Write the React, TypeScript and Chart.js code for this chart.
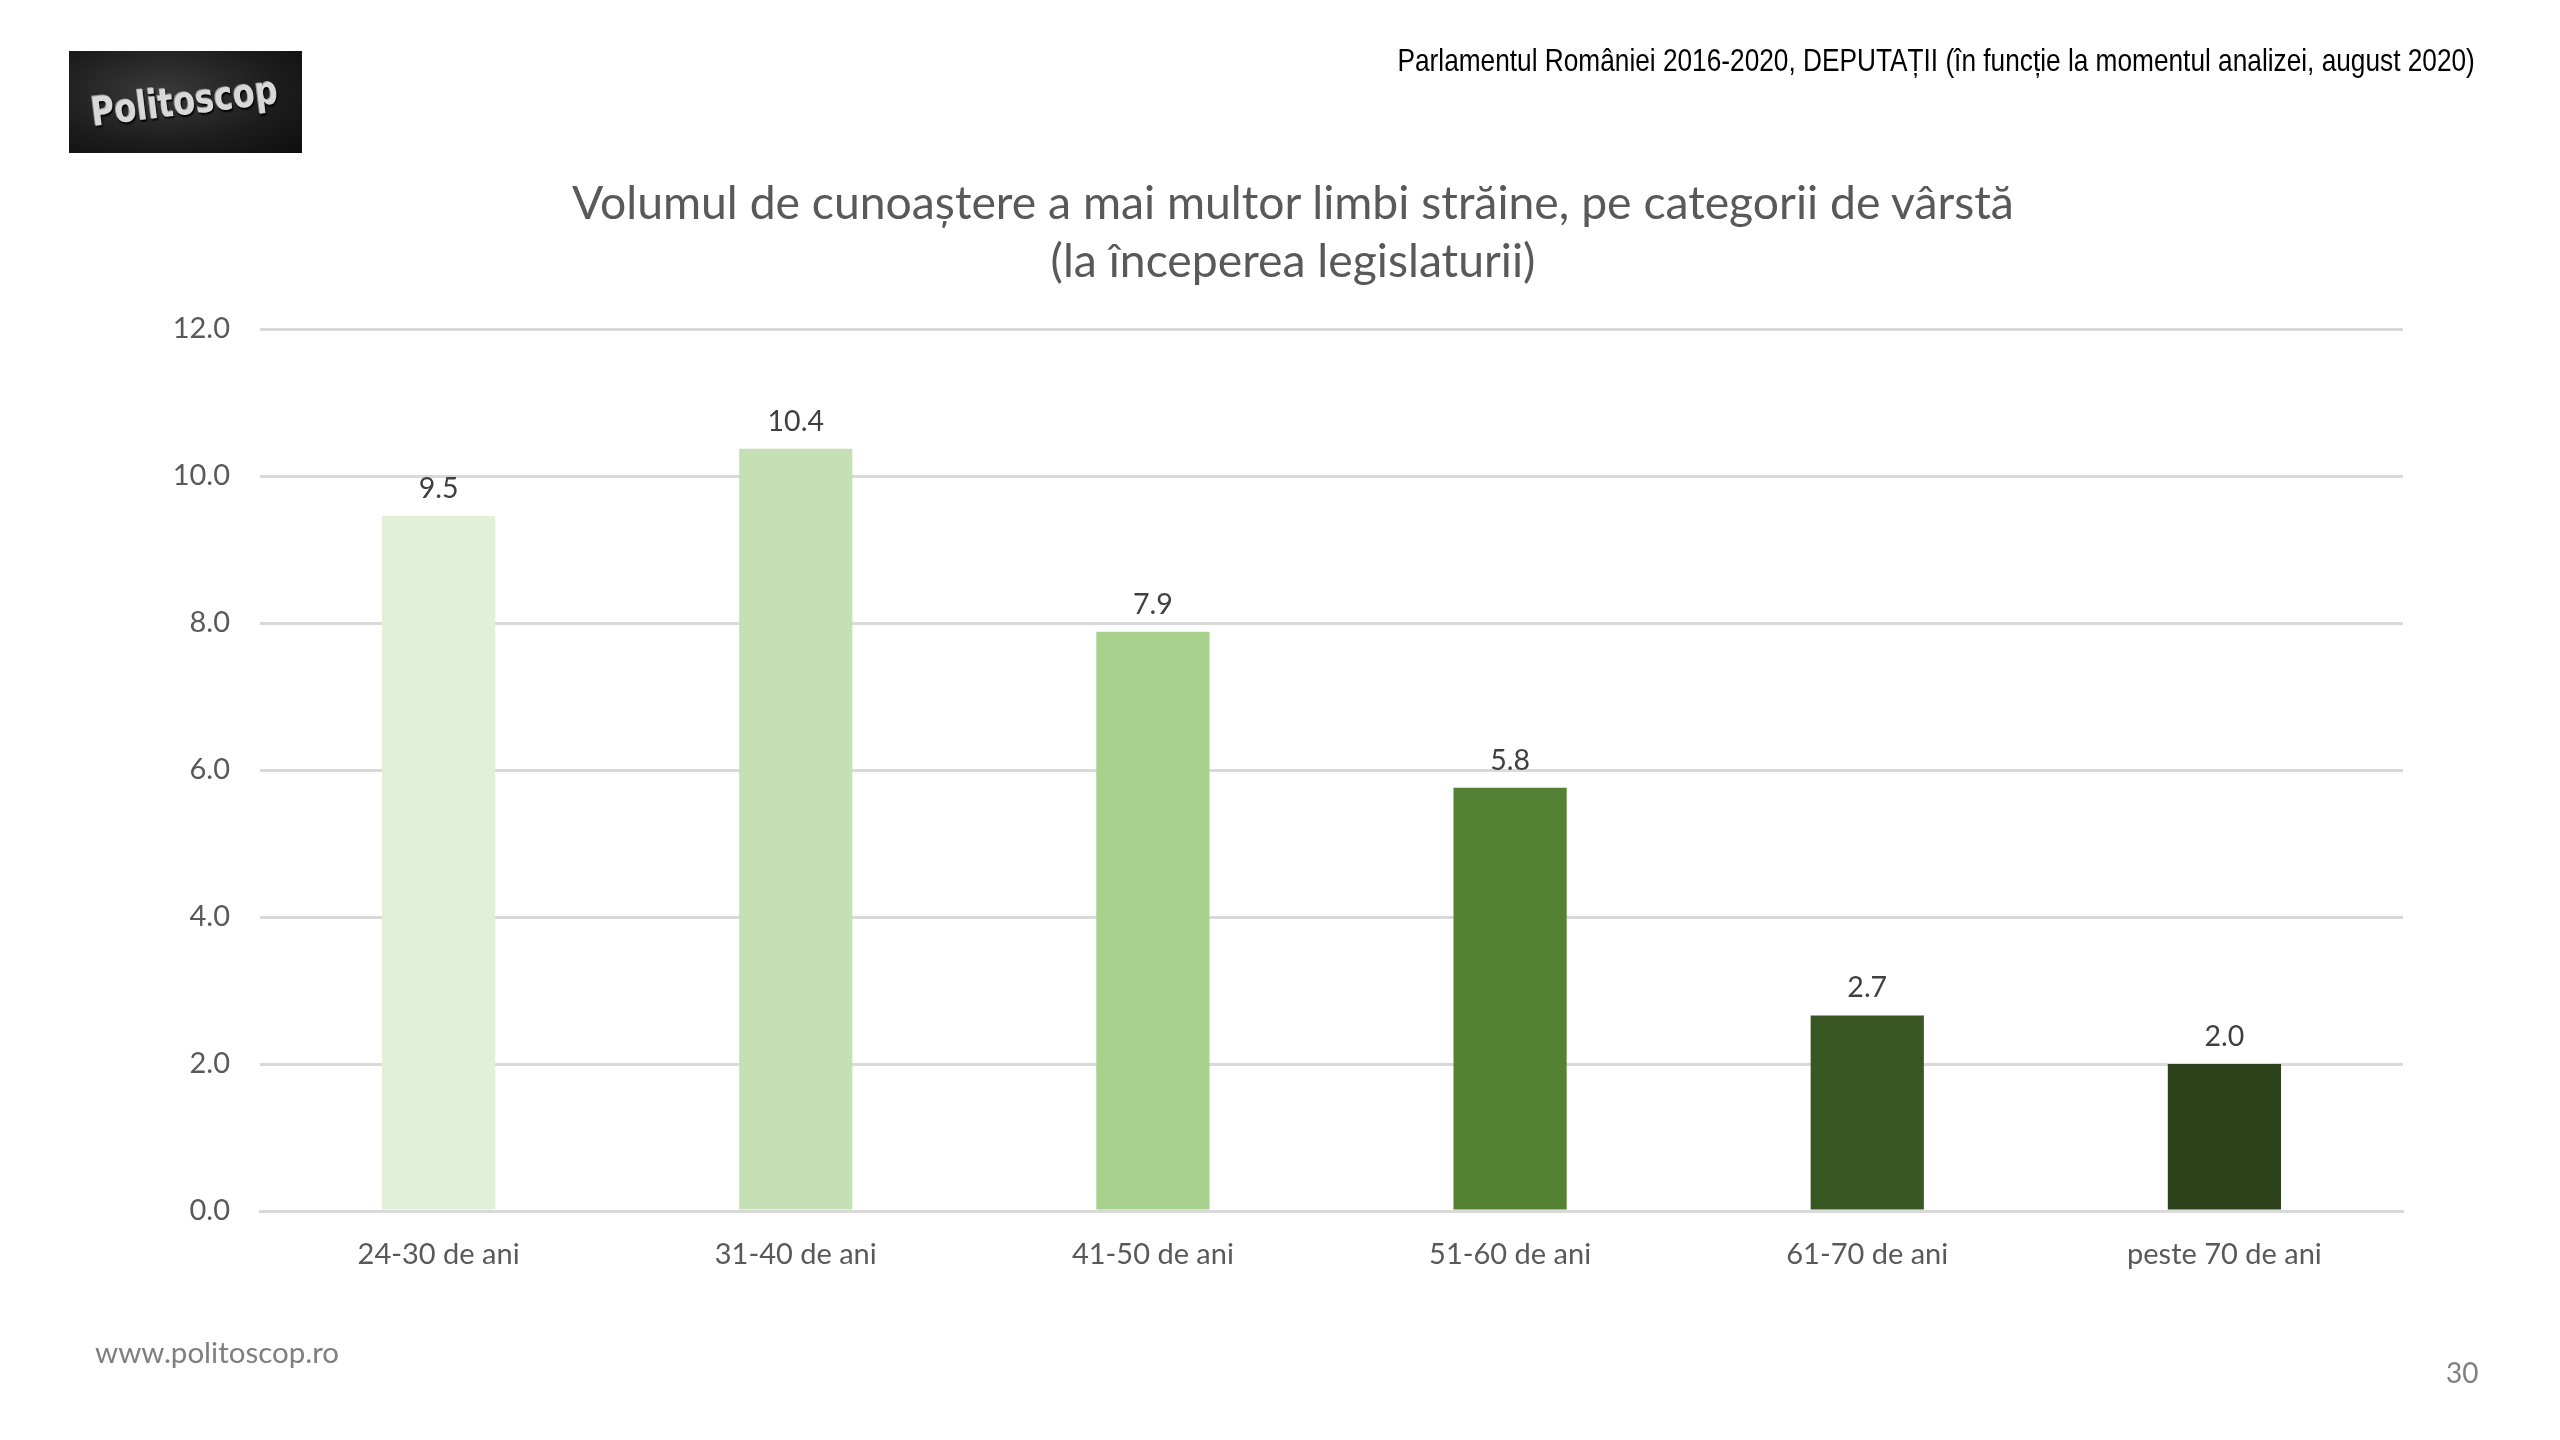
import React, { useEffect, useRef } from "react";
import { Chart, registerables } from "chart.js";

Chart.register(...registerables);

const categories = ["24-30 de ani", "31-40 de ani", "41-50 de ani", "51-60 de ani", "61-70 de ani", "peste 70 de ani"];
const values = [9.46, 10.37, 7.88, 5.76, 2.66, 2.0];
const barColors = ["#E2F0D9", "#C5E0B4", "#A9D18E", "#548235", "#385723", "#2A4119"];
const yTicks = [0, 2, 4, 6, 8, 10, 12];

const FONT = "Lato, 'Open Sans', sans-serif";

const valueLabels = {
  id: "valueLabels",
  afterDatasetsDraw(chart: any) {
    const ctx = chart.ctx;
    const meta = chart.getDatasetMeta(0);
    ctx.save();
    ctx.font = `28.5px ${FONT}`;
    ctx.fillStyle = "#404040";
    ctx.textAlign = "center";
    ctx.textBaseline = "bottom";
    meta.data.forEach((bar: any, i: number) => {
      ctx.fillText(values[i].toFixed(1), bar.x, bar.y - 13);
    });
    ctx.restore();
  },
};

function BarChart() {
  const ref = useRef<HTMLCanvasElement | null>(null);
  useEffect(() => {
    if (!ref.current) return;
    const chart = new Chart(ref.current, {
      type: "bar",
      data: {
        labels: categories,
        datasets: [
          {
            data: values,
            backgroundColor: barColors,
            borderWidth: 0,
            categoryPercentage: 1,
            barPercentage: 0.317,
          },
        ],
      },
      options: {
        animation: false,
        responsive: false,
        maintainAspectRatio: false,
        layout: { padding: { left: 0, right: 157, top: 329, bottom: 0 } },
        plugins: {
          legend: { display: false },
          tooltip: { enabled: false },
          title: { display: false },
        },
        scales: {
          x: {
            grid: { display: false, drawTicks: false },
            border: { display: true, color: "#D9D9D9", width: 3 },
            ticks: {
              color: "#595959",
              font: { family: FONT, size: 29 },
              padding: 26,
              maxRotation: 0,
            },
            afterFit(scale: any) {
              scale.height = 229;
            },
          },
          y: {
            min: 0,
            max: 12,
            afterBuildTicks(scale: any) {
              scale.ticks = yTicks.map((v) => ({ value: v }));
            },
            grid: { color: "#D9D9D9", lineWidth: 3, drawTicks: false },
            border: { display: false },
            ticks: {
              color: "#595959",
              font: { family: FONT, size: 29 },
              padding: 30,
              callback: (v: any) => Number(v).toFixed(1),
            },
            afterFit(scale: any) {
              scale.width = 260;
            },
          },
        },
      },
      plugins: [valueLabels],
    });
    return () => chart.destroy();
  }, []);
  return (
    <canvas
      ref={ref}
      width={2560}
      height={1440}
      style={{ position: "absolute", left: 0, top: 0, width: 2560, height: 1440 }}
    />
  );
}

export default function App() {
  return (
    <div
      style={{
        position: "fixed",
        left: 0,
        top: 0,
        width: 2560,
        height: 1440,
        background: "#ffffff",
        overflow: "hidden",
      }}
    >
      <BarChart />
      <div
        style={{
          position: "absolute",
          left: 69,
          top: 51,
          width: 233,
          height: 102,
          background: "radial-gradient(ellipse at 40% 40%, #3a3a3a 0%, #1c1c1c 60%, #0e0e0e 100%)",
          overflow: "hidden",
        }}
      >
        <div
          style={{
            position: "absolute",
            left: 22,
            top: 36,
            fontFamily: "'DejaVu Sans', sans-serif",
            fontWeight: "bold",
            fontSize: 40,
            color: "#d8d8d8",
            transform: "rotate(-7deg) scaleX(0.8)",
            transformOrigin: "left center",
            textShadow: "1px 2px 2px #000, -1px -1px 0 #999",
            lineHeight: "50px",
            whiteSpace: "nowrap",
          }}
        >
          Politoscop
        </div>
      </div>
      <div
        style={{
          position: "absolute",
          right: 85,
          top: 40,
          fontFamily: "'Liberation Sans', Arial, sans-serif",
          fontSize: 32,
          color: "#000000",
          whiteSpace: "nowrap",
          lineHeight: "40px",
          transform: "scaleX(0.82)",
          transformOrigin: "right center",
        }}
      >
        Parlamentul României 2016-2020, DEPUTAȚII (în funcție la momentul analizei, august 2020)
      </div>
      <div
        style={{
          position: "absolute",
          left: 0,
          width: 2586,
          top: 172,
          textAlign: "center",
          fontFamily: FONT,
          fontSize: 46.3,
          color: "#595959",
          lineHeight: "58px",
        }}
      >
        Volumul de cunoaștere a mai multor limbi străine, pe categorii de vârstă
        <br />
        (la începerea legislaturii)
      </div>
      <div
        style={{
          position: "absolute",
          left: 95,
          top: 1334,
          fontFamily: FONT,
          fontSize: 29.5,
          color: "#7F7F7F",
          lineHeight: "36px",
        }}
      >
        www.politoscop.ro
      </div>
      <div
        style={{
          position: "absolute",
          left: 2446,
          top: 1354,
          fontFamily: FONT,
          fontSize: 28,
          color: "#7F7F7F",
          lineHeight: "36px",
        }}
      >
        30
      </div>
    </div>
  );
}
